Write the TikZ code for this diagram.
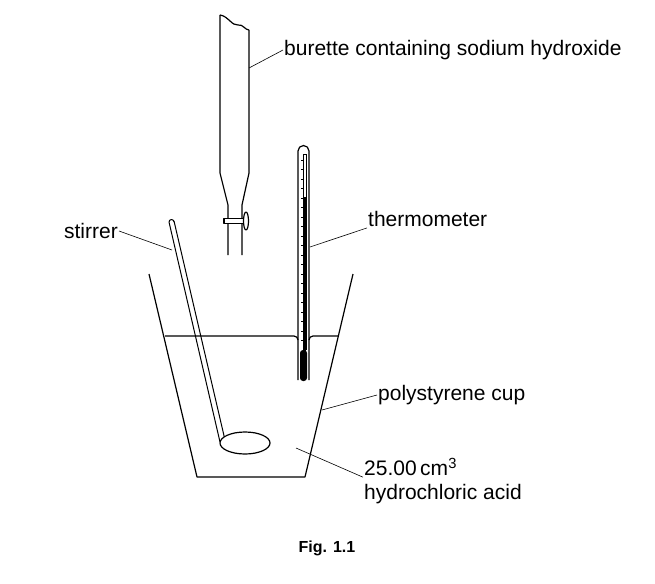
\documentclass[tikz,border=0pt]{standalone}
\usepackage{fontspec}
\setmainfont{Liberation Sans}
\begin{document}
\begin{tikzpicture}[x=1pt,y=-1pt,line join=round,
  glass/.style={draw,line width=1.2pt},
  leader/.style={draw,line width=0.6pt},
  lbl/.style={inner sep=1pt,font=\fontsize{21}{25}\selectfont}]
  \useasboundingbox (0,0) rectangle (655,583);
  % cup and liquid
  \draw[glass] (149,274) -- (197,477) -- (305,477) -- (353,274);
  \draw[glass] (165,336) -- (294,336) to[out=0,in=90] (298,340);
  \draw[glass] (309,340) to[out=90,in=180] (313,336) -- (338,336);
  % burette
  \draw[glass] (249,30) -- (249,173) -- (242,205) -- (242,255);
  \draw[glass] (220,15) -- (220,173) -- (228,205) -- (228,255);
  \draw[glass] (220,15) .. controls (228,16) and (232,26) .. (238,25)
     .. controls (243,24) and (245,30) .. (249,30);
  \draw[glass,fill=white] (224,218.5) rectangle (246,223.5);
  \draw[glass,fill=white] (246,221) ellipse (2.5 and 9);
  % thermometer
  \draw[glass] (298,380) -- (298,151) arc[start angle=180,end angle=360,radius=5.5] -- (309,380);
  \draw[line width=0.5pt] (303,154) -- (303,350) (306,154) -- (306,350) (303,154) -- (306,154);
  \fill (303,197) rectangle (306,355);
  \fill[rounded corners=3pt] (300,350) rectangle (307,381);
  \foreach \t in {0,...,19}
    \draw[line width=0.4pt] (301,160+9.5*\t) -- (303,160+9.5*\t);
  % stirrer
  \draw[glass,line width=1pt] (169,222) -- (220,442) (174,221) -- (225,440);
  \draw[glass,line width=1pt] (169,222) arc[start angle=180,end angle=360,radius=2.5];
  \draw[glass,fill=white] (245,443) ellipse (25 and 11);
  % labels
  \node[lbl,anchor=west] (bur) at (283,50) {burette containing sodium hydroxide};
  \node[lbl,anchor=west] (therm) at (367,219) {thermometer};
  \node[lbl,anchor=east] (stir) at (119,231) {stirrer};
  \node[lbl,anchor=west] (cup) at (377,395) {polystyrene cup};
  \node[lbl,anchor=west] (acid1) at (363,467) {25.00\,cm\textsuperscript{3}};
  \node[lbl,anchor=west] (acid2) at (363,494) {hydrochloric acid};
  \node[font=\bfseries\fontsize{16}{19}\selectfont] (fig) at (327,548) {Fig. 1.1};
  \coordinate (pb) at (249,68);
  \coordinate (pt) at (310,247);
  \coordinate (ps) at (172,250);
  \coordinate (pc) at (322,410);
  \coordinate (pa) at (296,448);
  \draw[leader] (pb) -- (bur.west);
  \draw[leader] (pt) -- (therm.south west);
  \draw[leader] (ps) -- (stir.east);
  \draw[leader] (pc) -- (cup.west);
  \draw[leader] (pa) -- (acid1.south west);
\end{tikzpicture}
\end{document}
